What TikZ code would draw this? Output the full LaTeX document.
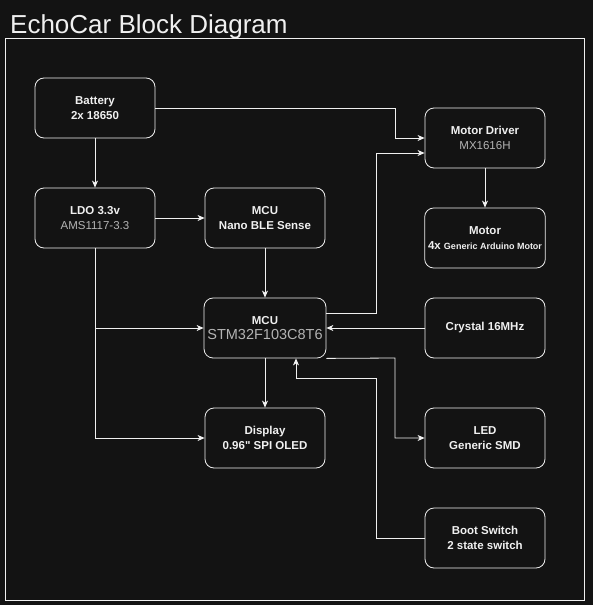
\documentclass[tikz,border=0pt]{standalone}
\usepackage{fontspec}
\setmainfont{Liberation Sans}[Ligatures=TeXOff]
\usepackage{tikz}
\usetikzlibrary{arrows.meta}
\definecolor{bg}{HTML}{131313}
\definecolor{fg}{HTML}{F0F0F0}
\definecolor{sub}{HTML}{B4B4B4}

\begin{document}
\begin{tikzpicture}[x=1pt,y=-1pt,
    blk/.style={draw=fg, line width=0.8pt, rounded corners=9pt, fill=bg, text=fg,
        minimum width=120pt, minimum height=60pt, align=center,
        font=\fontsize{11.5}{14.5}\selectfont\bfseries},
    arr/.style={draw=fg, line width=0.8pt, -{Stealth[length=7pt,width=6pt,inset=2pt]}}]
            \fill[bg] (0,0) rectangle (593,605);
            \node[anchor=base west, text=fg, font=\fontsize{26}{30}\selectfont, inner sep=0pt] (title) at (10,33) {EchoCar Block Diagram};
            \draw[fg, line width=0.8pt] (5,38) rectangle (584,600);

            \node[blk] (bat) at (95,108) {Battery\\2x 18650};
            \node[blk] (ldo) at (95,218) {LDO 3.3v\\\textcolor{sub}{\mdseries AMS1117-3.3}};
            \node[blk] (nano) at (265,218) {MCU\\Nano BLE Sense};
            \node[blk] (stm) at (265,328) {MCU\\\textcolor{sub}{\mdseries\fontsize{14.5}{16}\selectfont STM32F103C8T6}};
            \node[blk] (disp) at (265,438) {Display\\0.96" SPI OLED};
            \node[blk] (drv) at (485,138) {Motor Driver\\\textcolor{sub}{\mdseries MX1616H}};
            \node[blk] (mot) at (485,238) {Motor\\4x {\fontsize{9}{12}\selectfont Generic Arduino Motor}};
            \node[blk] (xtal) at (485,328) {Crystal 16MHz};
            \node[blk] (led) at (485,438) {LED\\Generic SMD};
            \node[blk] (boot) at (485,538) {Boot Switch\\2 state switch};

            \draw[arr] (bat) -- (ldo);
            \draw[arr] (ldo) -- (nano);
            \draw[arr] (nano) -- (stm);
            \draw[arr] (stm) -- (disp);
            \draw[arr] (drv) -- (mot);
            \draw[arr] (xtal) -- (stm);
            \draw[arr] (bat.east) -- (395,108) |- (drv.west);
            \draw[arr] ([yshift=15pt]stm.east) -- (376,313) |- ([yshift=-15pt]drv.west);
            \draw[arr] (ldo.south) |- (disp.west);
            \draw[arr] (ldo.south |- stm.west) -- (stm.west);
            \draw[arr] (stm.south east) -- (395,358) |- (led.west);
            \draw[arr] (boot.west) -| (376,378) -| ([xshift=31pt]stm.south);
\end{tikzpicture}
\end{document}
